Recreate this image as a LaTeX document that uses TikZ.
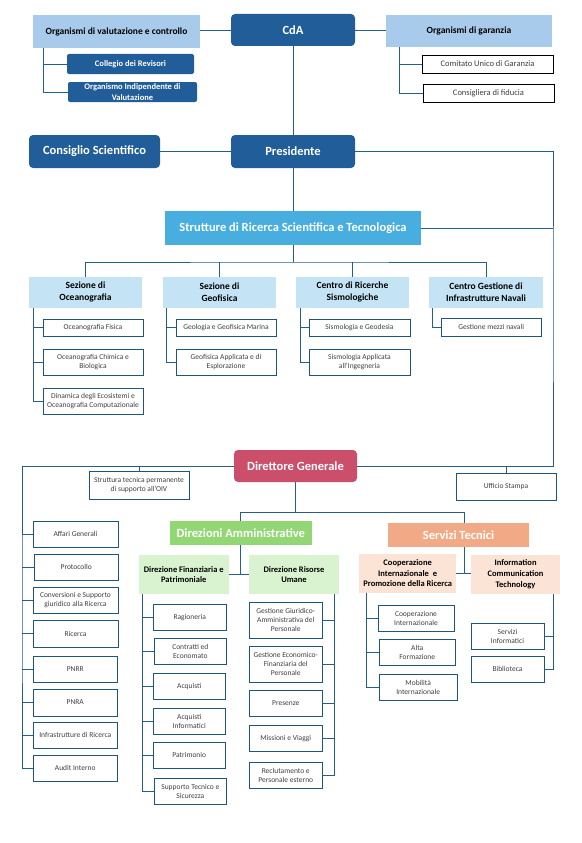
\documentclass[tikz,border=0pt]{standalone}
\usepackage{fontspec}
\setmainfont{Carlito}
\definecolor{dkblue}{RGB}{33,94,153}
\definecolor{linec}{RGB}{35,95,135}
\definecolor{bordc}{RGB}{30,85,120}
\definecolor{lblue}{RGB}{168,202,235}
\definecolor{skyb}{RGB}{72,174,224}
\definecolor{sblue}{RGB}{196,228,245}
\definecolor{crim}{RGB}{203,79,106}
\definecolor{grn}{RGB}{146,215,116}
\definecolor{lgrn}{RGB}{217,242,208}
\definecolor{salm}{RGB}{241,170,133}
\definecolor{peach}{RGB}{251,227,214}
\definecolor{txtc}{RGB}{64,64,64}
\newcommand{\bx}[7]{\node[#1, minimum width={(#4-#2)*1pt}, minimum height={(#5-#3)*1pt}] (#6) at ({(#2+#4)/2},{(#3+#5)/2}) {#7};}
\tikzset{
  every node/.style={inner sep=1pt, outer sep=0pt, align=center},
  conn/.style={draw=linec, line width=0.9pt},
  bigrnd/.style={fill=#1, rounded corners=4pt, text=white, font=\bfseries\fontsize{12.5}{15}\selectfont},
  smrnd/.style={fill=dkblue, rounded corners=2pt, text=white, font=\bfseries\fontsize{8.5}{11}\selectfont},
  lbhead/.style={fill=lblue, text=black, font=\bfseries\fontsize{9.5}{12}\selectfont},
  secthead/.style={fill=sblue, text=black, font=\bfseries\fontsize{9.5}{12}\selectfont},
  colhead/.style={fill=#1, text=white, font=\bfseries\fontsize{12.5}{15}\selectfont},
  subhead/.style={fill=#1, text=black, font=\bfseries\fontsize{8.5}{10.8}\selectfont},
  wbox/.style={draw=bordc, line width=0.9pt, fill=white, text=txtc, font=\fontsize{7.5}{9}\selectfont},
  kbox/.style={draw=black, line width=0.8pt, fill=white, text=txtc, font=\fontsize{8.5}{10}\selectfont}
}
\begin{document}
\begin{tikzpicture}[x=1pt,y=-1pt]
\useasboundingbox[fill=white] (0,0) rectangle (581,843);
% top level
\bx{lbhead}{33}{15}{200}{48}{orgval}{Organismi di valutazione e controllo}
\bx{bigrnd=dkblue}{231}{14}{355}{46}{cda}{CdA}
\bx{lbhead}{386}{15}{552}{47}{orggar}{Organismi di garanzia}
\bx{smrnd}{67}{54}{194}{74}{coll}{Collegio dei Revisori}
\bx{smrnd}{68}{82}{197}{102}{oiv}{Organismo Indipendente di\\Valutazione}
\bx{kbox}{422}{55}{553}{73}{cug}{Comitato Unico di Garanzia}
\bx{kbox}{423}{84}{554}{102}{cdf}{Consigliera di fiducia}
\bx{bigrnd=dkblue}{29}{135}{160}{168}{cons}{Consiglio Scientifico}
\bx{bigrnd=dkblue}{231}{135}{355}{168}{pres}{Presidente}
% research
\bx{colhead=skyb}{165}{211}{421}{245}{strut}{Strutture di Ricerca Scientifica e Tecnologica}
\bx{secthead}{29}{276.5}{142}{308}{sez1}{Sezione di\\Oceanografia}
\bx{secthead}{163}{276.5}{276}{308}{sez2}{Sezione di\\Geofisica}
\bx{secthead}{296}{276.5}{409}{308}{sez3}{Centro di Ricerche\\Sismologiche}
\bx{secthead}{429}{276.5}{543}{308}{sez4}{Centro Gestione di\\Infrastrutture Navali}
\bx{wbox}{43}{319}{143}{336}{of1}{Oceanografia Fisica}
\bx{wbox}{43}{349}{143}{375}{of2}{Oceanografia Chimica e\\Biologica}
\bx{wbox}{43}{388}{143}{414}{of3}{Dinamica degli Ecosistemi e\\Oceanografia Computazionale}
\bx{wbox}{176}{319}{276}{336}{gf1}{Geologia e Geofisica Marina}
\bx{wbox}{176}{349}{276}{375}{gf2}{Geofisica Applicata e di\\Esplorazione}
\bx{wbox}{309}{319}{410}{336}{sm1}{Sismologia e Geodesia}
\bx{wbox}{309}{349}{410}{375}{sm2}{Sismologia Applicata\\all’Ingegneria}
\bx{wbox}{441}{318.5}{541.5}{336}{nv1}{Gestione mezzi navali}
% direttore
\bx{bigrnd=crim}{234}{450}{357}{482}{dg}{Direttore Generale}
\bx{wbox}{89}{471}{189}{499}{stp}{Struttura tecnica permanente\\di supporto all’OIV}
\bx{wbox}{456}{473}{556}{500}{ust}{Ufficio Stampa}
\bx{wbox}{33}{521}{118}{547}{ag}{Affari Generali}
\bx{wbox}{34}{554}{118.5}{580}{prot}{Protocollo}
\bx{wbox}{33}{587}{118}{613}{conv}{Conversioni e Supporto\\giuridico alla Ricerca}
\bx{wbox}{33}{620}{118}{647}{ric}{Ricerca}
\bx{wbox}{33}{656}{117.5}{682}{pnrr}{PNRR}
\bx{wbox}{33}{689}{117.5}{716}{pnra}{PNRA}
\bx{wbox}{33}{722}{117.5}{748}{infr}{Infrastrutture di Ricerca}
\bx{wbox}{33}{755}{117.5}{781}{audit}{Audit Interno}
\bx{colhead=grn}{170}{521}{311.5}{545}{dira}{Direzioni Amministrative}
\bx{colhead=salm}{388}{523}{529}{547}{serv}{Servizi Tecnici}
\bx{subhead=lgrn}{139}{555}{228.5}{594}{dfin}{Direzione Finanziaria e\\Patrimoniale}
\bx{subhead=lgrn}{249}{555}{339}{594}{dru}{Direzione Risorse\\Umane}
\bx{subhead=peach}{359}{553.7}{456.3}{592.7}{coop}{Cooperazione\\Internazionale~ e\\Promozione della Ricerca}
\bx{subhead=peach}{470.7}{555}{560.4}{594}{ict}{Information\\Communication\\Technology}
\bx{wbox}{153.3}{604.3}{226.3}{630.3}{rag}{Ragioneria}
\bx{wbox}{154.4}{638.3}{226.3}{664.3}{contr}{Contratti ed\\Economato}
\bx{wbox}{153.3}{673.3}{225.2}{699.3}{acq}{Acquisti}
\bx{wbox}{153.3}{708.3}{225.2}{734.3}{acqi}{Acquisti\\Informatici}
\bx{wbox}{153.3}{742.3}{225.2}{768.3}{patr}{Patrimonio}
\bx{wbox}{154.4}{778.3}{226.3}{804.3}{sts}{Supporto Tecnico e\\Sicurezza}
\bx{wbox}{249.3}{602.3}{322.2}{638.3}{ggap}{Gestione Giuridico-\\Amministrativa del\\Personale}
\bx{wbox}{249.3}{646.3}{322.2}{682.3}{gefp}{Gestione Economico-\\Finanziaria del\\Personale}
\bx{wbox}{249.3}{690.3}{322.2}{716.3}{prs}{Presenze}
\bx{wbox}{249.3}{725.3}{322.2}{751.3}{miss}{Missioni e Viaggi}
\bx{wbox}{249.3}{762.3}{322.2}{788.3}{recl}{Reclutamento e\\Personale esterno}
\bx{wbox}{378}{605.3}{454}{631.3}{ci}{Cooperazione\\Internazionale}
\bx{wbox}{379.3}{639.3}{455.2}{665.3}{af}{Alta\\Formazione}
\bx{wbox}{379.3}{674.3}{457}{700.3}{mi}{Mobilità\\Internazionale}
\bx{wbox}{471}{623.3}{544}{649.3}{si}{Servizi\\Informatici}
\bx{wbox}{471}{656.3}{544}{682.3}{bib}{Biblioteca}
% connectors top
\draw[conn] (cda.west) -- (cda.west -| orgval.east);
\draw[conn] (cda.east) -- (cda.east -| orggar.west);
\draw[conn] ([xshift=10.3pt]orgval.south west) |- (coll.west);
\draw[conn] ([xshift=10.3pt]orgval.south west) |- (oiv.west);
\draw[conn] ([xshift=13.3pt]orggar.south west) |- (cug.west);
\draw[conn] ([xshift=13.3pt]orggar.south west) |- (cdf.west);
\draw[conn] (cda.south) -- (pres.north);
\draw[conn] (cons.east) -- (pres.west);
\coordinate (rc) at (553,300);
\draw[conn] (pres.east) -| (rc) |- (dg.east);
\draw[conn] (strut.east) -- (strut.east -| rc);
\draw[conn] (pres.south) -- (strut.north);
\coordinate (bus) at (293,262);
\draw[conn] (strut.south) -- (bus);
\draw[conn] (sez1.north) |- (bus) -| (sez4.north);
\draw[conn] (sez2.north) -- (sez2.north |- bus);
\draw[conn] (sez3.north) -- (sez3.north |- bus);
\foreach \c in {of1,of2,of3} \draw[conn] ([xshift=4.7pt]sez1.south west) |- (\c.west);
\foreach \c in {gf1,gf2} \draw[conn] ([xshift=3.7pt]sez2.south west) |- (\c.west);
\foreach \c in {sm1,sm2} \draw[conn] ([xshift=4.4pt]sez3.south west) |- (\c.west);
\draw[conn] ([xshift=3.6pt]sez4.south west) |- (nv1.west);
% direttore connectors
\coordinate (lc) at (22,600);
\draw[conn] (dg.west) -| (lc) |- (audit.west);
\foreach \c in {ag,prot,conv,ric,pnrr,pnra,infr} \draw[conn] (\c.west -| lc) -- (\c.west);
\draw[conn] (stp.north) -- (stp.north |- dg.west);
\draw[conn] (ust.north) -- (ust.north |- dg.east);
\coordinate (bus2) at (295.5,512.3);
\coordinate (sx) at (464,540);
\draw[conn] (dg.south) -- (bus2);
\draw[conn] (dira.north) |- (bus2) -| (sx |- serv.north);
\draw[conn] (dira.south) -- (dira.south |- dfin.east);
\draw[conn] (dfin.east) -- (dru.west);
\draw[conn] (sx |- serv.south) -- (sx |- coop.east);
\draw[conn] (coop.east) -- (coop.east -| ict.west);
\foreach \c in {rag,contr,acq,acqi,patr,sts} \draw[conn] ([xshift=3.3pt]dfin.south west) |- (\c.west);
\foreach \c in {ggap,gefp,prs,miss,recl} \draw[conn] ([xshift=-4.9pt]dru.south east) |- (\c.east);
\foreach \c in {ci,af,mi} \draw[conn] ([xshift=7.4pt]coop.south west) |- (\c.west);
\foreach \c in {si,bib} \draw[conn] ([xshift=-7.4pt]ict.south east) |- (\c.east);
\end{tikzpicture}
\end{document}
